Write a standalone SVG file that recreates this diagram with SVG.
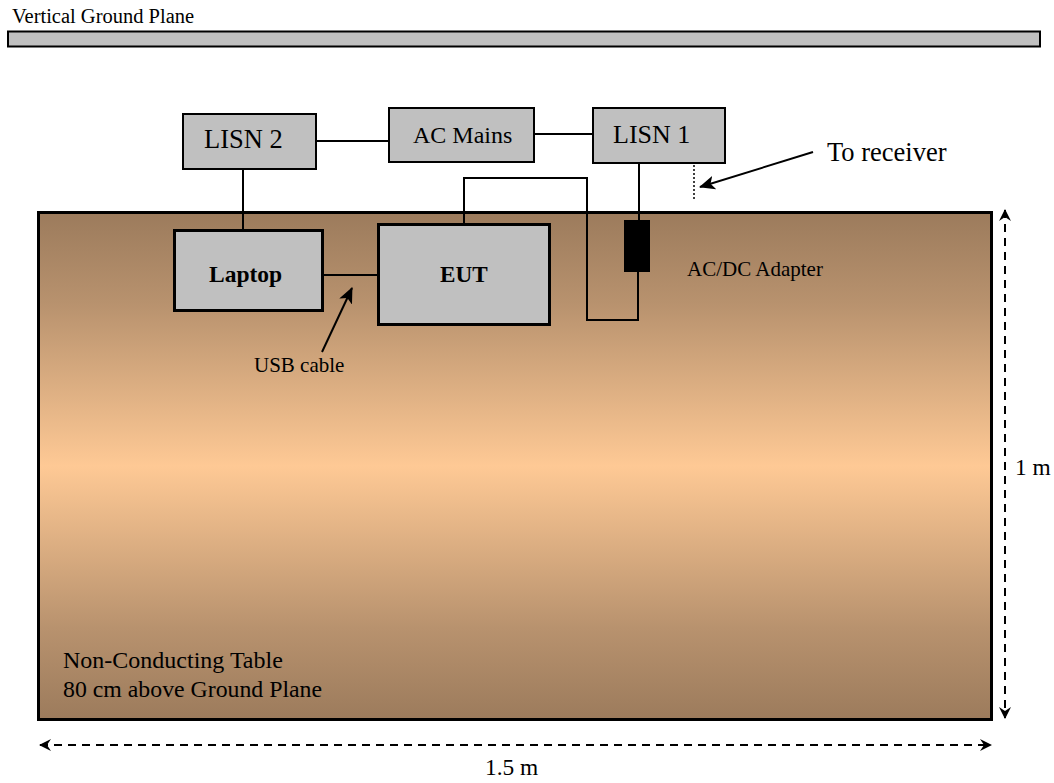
<svg xmlns="http://www.w3.org/2000/svg" width="1054" height="783" viewBox="0 0 1054 783">
<defs>
<linearGradient id="tableGrad" x1="0" y1="0" x2="0" y2="1">
<stop offset="0" stop-color="#9c7b5c"/>
<stop offset="0.18" stop-color="#b8926e"/>
<stop offset="0.5" stop-color="#fec995"/>
<stop offset="0.82" stop-color="#b8926e"/>
<stop offset="1" stop-color="#9c7b5c"/>
</linearGradient>
<marker id="arr" viewBox="0 0 12 12" refX="11" refY="6" markerWidth="12" markerHeight="12" markerUnits="userSpaceOnUse" orient="auto-start-reverse">
<path d="M0,0 L12,6 L0,12 L4,6 Z" fill="#000"/>
</marker>
<marker id="arrBig" viewBox="0 0 16 14" refX="15" refY="7" markerWidth="16" markerHeight="14" markerUnits="userSpaceOnUse" orient="auto">
<path d="M0,0 L16,7 L0,14 L4,7 Z" fill="#000"/>
</marker>
</defs>
<style>
.t{font-family:"Liberation Serif","Times New Roman",serif;fill:#000}
.box{fill:#c0c0c0;stroke:#000;stroke-width:2}
.boxb{fill:#c0c0c0;stroke:#000;stroke-width:3}
.w{fill:none;stroke:#000;stroke-width:2}
.dash{fill:none;stroke:#000;stroke-width:2;stroke-dasharray:8,6}
</style>
<rect width="1054" height="783" fill="#fff"/>

<g id="ground-plane">
<text class="t" x="12" y="23" font-size="20.5">Vertical Ground Plane</text>
<rect x="8" y="31.5" width="1032" height="15" fill="#c0c0c0" stroke="#000" stroke-width="2"/>
</g>

<g id="table">
<rect x="38.5" y="212.5" width="953" height="507" fill="url(#tableGrad)" stroke="#000" stroke-width="3"/>
<text class="t" x="63" y="668" font-size="24">Non-Conducting Table</text>
<text class="t" x="63" y="697" font-size="23.8">80 cm above Ground Plane</text>
</g>

<g id="connectors">
<line class="w" x1="316" y1="141" x2="389" y2="141"/>
<line class="w" x1="534" y1="134" x2="593" y2="134"/>
<line class="w" x1="243" y1="169" x2="243" y2="230"/>
<polyline class="w" points="464,224 464,178 587,178 587,320 638,320 638,272"/>
<line class="w" x1="639" y1="163" x2="639" y2="220"/>
<line class="w" x1="323" y1="275" x2="378" y2="275"/>
<line x1="694" y1="165" x2="694" y2="200" stroke="#000" stroke-width="1.5" stroke-dasharray="2,2"/>
<line class="w" x1="813" y1="152" x2="700" y2="187" marker-end="url(#arrBig)"/>
<line class="w" x1="322" y1="352" x2="352" y2="288" marker-end="url(#arrBig)"/>
<line class="dash" x1="40" y1="745" x2="991" y2="745" marker-start="url(#arr)" marker-end="url(#arr)"/>
<line class="dash" x1="1005" y1="210" x2="1005" y2="718" marker-start="url(#arr)" marker-end="url(#arr)"/>
</g>

<g id="lisn2">
<rect class="box" x="183" y="114" width="133" height="55"/>
<text class="t" x="204" y="148" font-size="26.5">LISN 2</text>
</g>

<g id="ac-mains">
<rect class="box" x="389" y="108" width="145" height="54"/>
<text class="t" x="413" y="143" font-size="24">AC Mains</text>
</g>

<g id="lisn1">
<rect class="box" x="593" y="108" width="132" height="55"/>
<text class="t" x="613" y="143" font-size="26">LISN 1</text>
</g>

<g id="laptop">
<rect class="boxb" x="174.5" y="230.5" width="148" height="80"/>
<text class="t" x="209" y="282" font-size="23.5" font-weight="bold">Laptop</text>
</g>

<g id="eut">
<rect class="boxb" x="378.5" y="224.5" width="171" height="100"/>
<text class="t" x="440" y="282" font-size="23.2" font-weight="bold">EUT</text>
</g>

<g id="adapter">
<rect x="624" y="220" width="26" height="52" fill="#000"/>
<text class="t" x="687" y="276" font-size="21">AC/DC Adapter</text>
</g>

<g id="labels">
<text class="t" x="827" y="160.5" font-size="26.5">To receiver</text>
<text class="t" x="254" y="372" font-size="21">USB cable</text>
<text class="t" x="485" y="775" font-size="23.4">1.5 m</text>
<text class="t" x="1015" y="475" font-size="23.4">1 m</text>
</g>
</svg>
